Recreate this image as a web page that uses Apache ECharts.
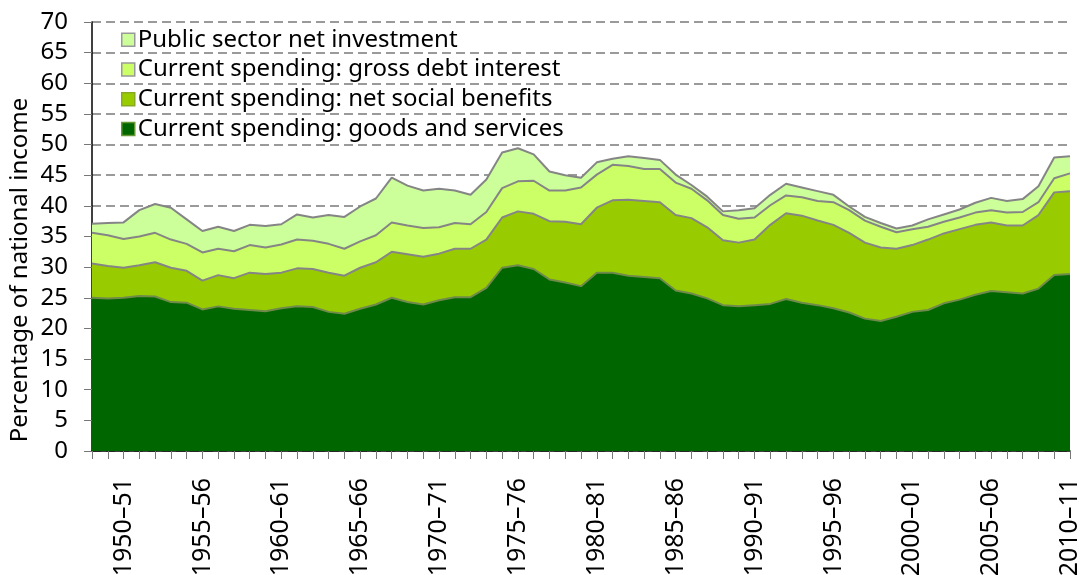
<!DOCTYPE html>
<html>
<head>
<meta charset="utf-8">
<script src="https://cdn.jsdelivr.net/npm/echarts@6/dist/echarts.min.js"></script>
<style>
	html, body { margin: 0; padding: 0; background: #fff; }
	#chart { width: 1082px; height: 575px; }
</style>
</head>
<body>
<div id="chart"></div>
<script>
	// financial years 1948-49 .. 2010-11
	var years = ['1948–49', '1949–50', '1950–51', '1951–52', '1952–53', '1953–54', '1954–55', '1955–56', '1956–57', '1957–58',
		'1958–59', '1959–60', '1960–61', '1961–62', '1962–63', '1963–64', '1964–65', '1965–66', '1966–67', '1967–68',
		'1968–69', '1969–70', '1970–71', '1971–72', '1972–73', '1973–74', '1974–75', '1975–76', '1976–77', '1977–78',
		'1978–79', '1979–80', '1980–81', '1981–82', '1982–83', '1983–84', '1984–85', '1985–86', '1986–87', '1987–88',
		'1988–89', '1989–90', '1990–91', '1991–92', '1992–93', '1993–94', '1994–95', '1995–96', '1996–97', '1997–98',
		'1998–99', '1999–00', '2000–01', '2001–02', '2002–03', '2003–04', '2004–05', '2005–06', '2006–07', '2007–08',
		'2008–09', '2009–10', '2010–11'];

	// % of national income, one value per year (stacked from the bottom)
	var goodsServices = [25.0, 24.9, 25.0, 25.3, 25.2, 24.3, 24.2, 23.1, 23.6, 23.2,
		23.0, 22.8, 23.3, 23.6, 23.5, 22.7, 22.4, 23.2, 23.9, 25.0,
		24.3, 23.9, 24.6, 25.1, 25.1, 26.6, 29.9, 30.3, 29.7, 28.0,
		27.5, 26.9, 29.1, 29.1, 28.6, 28.4, 28.2, 26.2, 25.7, 24.9,
		23.8, 23.6, 23.8, 24.0, 24.8, 24.2, 23.8, 23.3, 22.6, 21.6,
		21.2, 21.9, 22.7, 23.0, 24.1, 24.7, 25.5, 26.1, 25.9, 25.7,
		26.5, 28.7, 28.9];
	var socialBenefits = [5.6, 5.3, 4.9, 5.0, 5.6, 5.6, 5.2, 4.7, 5.1, 5.0,
		6.1, 6.1, 5.8, 6.2, 6.2, 6.4, 6.2, 6.7, 6.9, 7.5,
		7.8, 7.8, 7.6, 7.9, 7.9, 7.9, 8.2, 8.8, 9.0, 9.5,
		9.9, 10.1, 10.6, 11.8, 12.4, 12.4, 12.4, 12.3, 12.3, 11.6,
		10.6, 10.4, 10.7, 12.9, 14.0, 14.2, 13.8, 13.6, 13.0, 12.4,
		12.0, 11.1, 10.9, 11.5, 11.4, 11.5, 11.4, 11.2, 10.9, 11.1,
		12.0, 13.5, 13.5];
	var debtInterest = [5.0, 5.0, 4.7, 4.7, 4.8, 4.6, 4.4, 4.6, 4.3, 4.4,
		4.5, 4.3, 4.6, 4.7, 4.6, 4.7, 4.4, 4.3, 4.4, 4.8,
		4.7, 4.7, 4.3, 4.2, 4.0, 4.5, 4.8, 4.9, 5.4, 5.0,
		5.1, 6.0, 5.4, 5.8, 5.5, 5.2, 5.4, 5.3, 4.8, 4.4,
		4.1, 3.9, 3.6, 3.2, 2.9, 3.0, 3.2, 3.7, 3.7, 3.6,
		3.4, 2.7, 2.6, 2.1, 1.9, 1.9, 2.0, 2.0, 2.1, 2.2,
		2.1, 2.3, 2.9];
	var netInvestment = [1.5, 2.0, 2.7, 4.3, 4.7, 5.2, 4.0, 3.5, 3.6, 3.3,
		3.3, 3.5, 3.3, 4.1, 3.8, 4.7, 5.2, 5.7, 6.0, 7.3,
		6.5, 6.1, 6.3, 5.3, 4.8, 5.3, 5.8, 5.4, 4.3, 3.1,
		2.5, 1.6, 2.0, 1.0, 1.6, 1.8, 1.5, 1.3, 0.6, 0.6,
		0.6, 1.4, 1.5, 1.7, 1.9, 1.6, 1.6, 1.2, 0.6, 0.6,
		0.6, 0.6, 0.6, 1.2, 1.2, 1.3, 1.6, 2.0, 1.9, 2.1,
		2.6, 3.4, 2.8];

	var yTicks = [0, 70, 5]; // min, max, step

	var font = '"Noto Sans", "Open Sans", sans-serif';
	var myChart = echarts.init(document.getElementById('chart'), null, { renderer: 'canvas' });

	//one stacked layer
	function layer(name, data, fill, line) {
		return {
			name: name,
			type: 'line',
			stack: 'total',
			data: data,
			symbol: 'none',
			smooth: false,
			lineStyle: { color: line, width: 2 },
			areaStyle: { color: fill, opacity: 1 },
			itemStyle: { color: fill },
			emphasis: { disabled: true }
		};
	}

	myChart.setOption({
		animation: false,
		textStyle: { fontFamily: font },
		grid: { left: 92, right: 12, top: 22, bottom: 124, containLabel: false, outerBoundsMode: 'none' },
		//y axis title sits a bit below the axis middle in the original
		graphic: [{
			type: 'text',
			x: 20,
			y: 270,
			rotation: Math.PI / 2,
			style: {
				text: 'Percentage of national income',
				fontSize: 24,
				fontFamily: font,
				fill: '#000',
				align: 'center',
				verticalAlign: 'middle'
			}
		}],
		legend: {
			orient: 'vertical',
			left: 116,
			top: 20,
			itemGap: 0,
			itemWidth: 13,
			itemHeight: 13,
			icon: 'rect',
			textStyle: { fontSize: 24, lineHeight: 29.7, color: '#000', fontFamily: font, padding: [0, 0, 0, -2] },
			data: [
				{ name: 'Public sector net investment', itemStyle: { color: '#ccff99', borderColor: '#999', borderWidth: 1.5 } },
				{ name: 'Current spending: gross debt interest', itemStyle: { color: '#ccff66', borderColor: '#999', borderWidth: 1.5 } },
				{ name: 'Current spending: net social benefits', itemStyle: { color: '#99cc00', borderColor: '#88aa22', borderWidth: 1.5 } },
				{ name: 'Current spending: goods and services', itemStyle: { color: '#006600', borderColor: '#669933', borderWidth: 1.5 } }
			]
		},
		xAxis: {
			type: 'category',
			data: years,
			boundaryGap: false,
			axisLine: { lineStyle: { color: '#000', width: 1.5 } },
			axisTick: { show: true, interval: 0, length: 8, lineStyle: { color: '#777' } },
			axisLabel: {
				rotate: 90,
				margin: 27,
				fontSize: 25,
				color: '#000',
				fontFamily: font,
				interval: function (index) { return (index - 2) % 5 === 0; }
			},
			splitLine: { show: false }
		},
		yAxis: {
			type: 'value',
			min: yTicks[0],
			max: yTicks[1],
			interval: yTicks[2],
			axisLine: { show: true, lineStyle: { color: '#000', width: 1.5 } },
			axisTick: { show: true, length: 8, lineStyle: { color: '#777' } },
			axisLabel: { margin: 24, fontSize: 24, color: '#000', fontFamily: font },
			splitLine: { show: true, lineStyle: { color: '#9a9a9a', width: 2, type: [9, 5] } }
		},
		series: [
			layer('Current spending: goods and services', goodsServices, '#006600', '#6f8a4a'),
			layer('Current spending: net social benefits', socialBenefits, '#99cc00', '#858585'),
			layer('Current spending: gross debt interest', debtInterest, '#ccff66', '#858585'),
			layer('Public sector net investment', netInvestment, '#ccff99', '#858585')
		]
	});
</script>
</body>
</html>
